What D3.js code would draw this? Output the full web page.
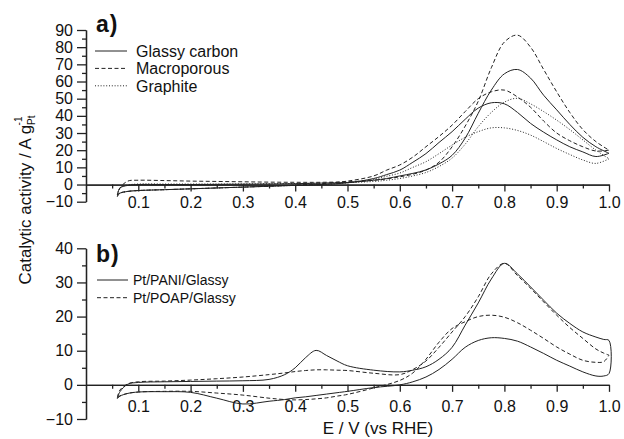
<!DOCTYPE html>
<html>
<head>
<meta charset="utf-8">
<script src="https://d3js.org/d3.v7.min.js"></script>
<style>
body { margin:0; background:#fff; }
#container { width:624px; height:439px; }
text { font-family:'Liberation Sans', Arial, sans-serif; fill:#111; }
.axis path, .axis line { stroke:#222; stroke-width:1.3; }
</style>
</head>
<body>
<div id="container"></div>
<script>

var width = 624;
var height = 439;

// panel a) potential grid, two sweeps per electrode
var gridA = [0.06, 0.065, 0.08, 0.1, 0.15, 0.2, 0.25, 0.3, 0.35, 0.4, 0.45, 0.5, 0.55, 0.575, 0.6, 0.625, 0.65, 0.675, 0.7, 0.725, 0.75, 0.775, 0.8, 0.825, 0.85, 0.875, 0.9, 0.925, 0.95, 0.975, 1.0];

var glassyFwd = [-6, -2, -0.5, 0, 0, 0, 0.1, 0.2, 0.3, 0.5, 0.8, 1.2, 2.5, 3.5, 5, 6.5, 8.5, 12, 17, 27, 41.5, 55, 64.5, 67, 62, 52, 43.5, 35, 27.5, 22, 18.2];
var glassyRev = [-6, -5, -4, -3.5, -3, -2.5, -2, -1.5, -1, -0.5, 0, 1, 3.5, 5.8, 8.4, 13, 18, 24.5, 30.8, 38, 44.5, 47.6, 47, 42, 35.6, 30.5, 26, 22, 19, 16.3, 18.2];

var macroFwd = [-7, -2, 2, 2.5, 2.3, 2, 1.8, 1.6, 1.4, 1.3, 1.3, 1.6, 2.5, 3.3, 4.5, 6, 8.4, 13, 22, 34, 48.5, 68, 83, 87, 80, 67, 54, 42, 32, 25, 20];
var macroRev = [-7, -5, -4, -3.5, -3, -2.5, -2, -1.5, -1, -0.3, 0.5, 2, 5, 8.4, 11.4, 16, 22, 28, 34.6, 42.5, 50, 54, 55, 51, 45, 37, 30, 25.5, 22, 19.5, 20];

var graphiteFwd = [-6, -2, -0.3, 0.3, 0.3, 0.3, 0.3, 0.4, 0.5, 0.6, 0.8, 1.1, 1.8, 2.5, 3.5, 5, 7, 10.5, 15.4, 23.5, 33.7, 42, 48, 50.2, 47, 42.5, 37.5, 32, 26, 20, 15];
var graphiteRev = [-6, -5, -4, -3.5, -3, -2.5, -2, -1.5, -1, -0.5, 0, 1, 3, 4.8, 6.7, 10, 13.3, 18, 23, 27.5, 30.8, 33, 33, 31.5, 28.8, 25, 21, 17.5, 14.3, 12.3, 15];

// panel b)
var gridB = [0.06, 0.065, 0.08, 0.1, 0.15, 0.2, 0.25, 0.3, 0.35, 0.38, 0.4, 0.42, 0.44, 0.46, 0.48, 0.5, 0.55, 0.6, 0.625, 0.65, 0.675, 0.7, 0.725, 0.75, 0.775, 0.8, 0.825, 0.85, 0.875, 0.9, 0.925, 0.95, 0.975, 0.99, 1.0];

var paniFwd = [-4, -2, 0.2, 0.7, 0.9, 1.0, 1.1, 1.2, 1.6, 3, 5, 8, 10.1, 8.6, 7, 5.6, 4.3, 3.8, 4.3, 5.3, 7.5, 11, 17.5, 24, 31, 35.6, 32.5, 28.7, 24.8, 21, 18, 15.5, 14, 13.3, 13];
var paniRev = [-4, -3.3, -2.5, -2.1, -2, -2.2, -3.9, -5.6, -4.8, -4.3, -3.8, -3.5, -3.1, -2.7, -2.3, -1.9, -0.8, 0, 0.9, 2.3, 4.5, 7.5, 11, 13, 13.8, 13.6, 12.8, 11.1, 9.2, 7.2, 5.5, 3.8, 2.6, 2.6, 3.3];

var poapFwd = [-3.7, -1.5, 0.3, 0.9, 1.1, 1.4, 1.8, 2.3, 3.0, 3.5, 3.9, 4.2, 4.4, 4.4, 4.3, 4.2, 3.4, 3.0, 4.5, 7, 11, 15.5, 20, 25.8, 32.5, 35.6, 32, 28.3, 24.3, 20.4, 16.8, 13.6, 10.5, 9.3, 8.7];
var poapRev = [-3.7, -3.2, -2.5, -2.1, -1.9, -1.9, -2.4, -3, -3.9, -4.3, -4.4, -4.3, -4.1, -3.8, -3.3, -2.8, -0.9, 1.3, 3.5, 7.5, 12.5, 16.5, 18.5, 20, 20.4, 19.8, 18.2, 16, 13.6, 11.1, 9, 7.2, 6.6, 6.8, 8.7];

var xTicks = [0.1, 0.2, 0.3, 0.4, 0.5, 0.6, 0.7, 0.8, 0.9, 1.0];
var yTicksA = [-10, 0, 10, 20, 30, 40, 50, 60, 70, 80, 90];
var yTicksB = [-10, 0, 10, 20, 30, 40];

var legendA = ['Glassy carbon', 'Macroporous', 'Graphite'];
var legendB = ['Pt/PANI/Glassy', 'Pt/POAP/Glassy'];

var dashes = ['none', '4,2.5', '1,1.8'];

var svg = d3.select('#container')
	.append('svg')
	.attr('width', width)
	.attr('height', height);

var x = d3.scaleLinear()
	.domain([0, 1])
	.range([86, 609]);

var yA = d3.scaleLinear()
	.domain([-10, 90])
	.range([201.7, 30]);

var yB = d3.scaleLinear()
	.domain([-10, 40])
	.range([419, 248.3]);

// join both sweeps into one closed CV loop
function loop(grid, fwd, rev){
	var out = grid.map(function(e, i){ return [e, fwd[i]]; });
	var back = grid.map(function(e, i){ return [e, rev[i]]; }).reverse();
	return out.concat(back);
}

function drawPanel(y, yTicks, labelY, series){

	// minor + major y ticks
	svg.append('g')
		.attr('class', 'axis')
		.attr('transform', 'translate(86,0)')
		.call(d3.axisLeft(y).tickValues(d3.range(yTicks[0] + 5, yTicks[yTicks.length - 1], 10)).tickSize(4).tickSizeOuter(0).tickFormat(''));

	var ya = svg.append('g')
		.attr('class', 'axis')
		.attr('transform', 'translate(86,0)')
		.call(d3.axisLeft(y).tickValues(yTicks).tickSize(9).tickPadding(4).tickSizeOuter(0));
	ya.selectAll('text').style('font-size', '16px');

	svg.append('g')
		.attr('class', 'axis')
		.attr('transform', 'translate(0,' + y(0) + ')')
		.call(d3.axisBottom(x).tickValues(d3.range(0.05, 1, 0.1)).tickSize(4).tickSizeOuter(0).tickFormat(''));

	var xa = svg.append('g')
		.attr('class', 'axis')
		.attr('transform', 'translate(0,' + y(0) + ')')
		.call(d3.axisBottom(x).tickValues(xTicks).tickSize(7).tickSizeOuter(0).tickFormat(d3.format('.1f')));
	xa.selectAll('text')
		.style('font-size', '16px')
		.attr('dy', null)
		.attr('y', labelY - y(0));

	var line = d3.line()
		.x(function(d){ return x(d[0]); })
		.y(function(d){ return y(d[1]); })
		.curve(d3.curveCatmullRom.alpha(0.5));

	svg.selectAll(null)
		.data(series)
		.enter()
		.append('path')
		.attr('d', function(d){ return line(d.pts); })
		.style('fill', 'none')
		.style('stroke', '#222')
		.style('stroke-width', 1)
		.style('stroke-dasharray', function(d){ return d.dash; });
}

drawPanel(yA, yTicksA, 208.5, [
	{'pts': loop(gridA, glassyFwd, glassyRev), 'dash': dashes[0]},
	{'pts': loop(gridA, macroFwd, macroRev), 'dash': dashes[1]},
	{'pts': loop(gridA, graphiteFwd, graphiteRev), 'dash': dashes[2]}
]);

drawPanel(yB, yTicksB, 412.5, [
	{'pts': loop(gridB, paniFwd, paniRev), 'dash': dashes[0]},
	{'pts': loop(gridB, poapFwd, poapRev), 'dash': dashes[1]}
]);

// legends
legendA.forEach(function(name, i){
	var ly = 51 + i * 17.4;
	svg.append('line')
		.attr('x1', 95).attr('x2', 127)
		.attr('y1', ly).attr('y2', ly)
		.style('stroke', '#222')
		.style('stroke-dasharray', dashes[i]);
	svg.append('text')
		.attr('x', 136)
		.attr('y', ly + 6)
		.style('font-size', '16px')
		.text(name);
});

legendB.forEach(function(name, i){
	var ly = 280 + i * 17.7;
	svg.append('line')
		.attr('x1', 97).attr('x2', 128)
		.attr('y1', ly).attr('y2', ly)
		.style('stroke', '#222')
		.style('stroke-dasharray', dashes[i]);
	svg.append('text')
		.attr('x', 133)
		.attr('y', ly + 5)
		.style('font-size', '14px')
		.text(name);
});

// panel letters
svg.append('text')
	.attr('x', 96).attr('y', 32)
	.style('font-size', '23px')
	.style('font-weight', 'bold')
	.style('letter-spacing', '1px')
	.text('a)');

svg.append('text')
	.attr('x', 96).attr('y', 262)
	.style('font-size', '23px')
	.style('font-weight', 'bold')
	.style('letter-spacing', '1px')
	.text('b)');

// axis titles
svg.append('text')
	.attr('x', 378)
	.attr('y', 434)
	.attr('text-anchor', 'middle')
	.style('font-size', '17px')
	.text('E / V (vs RHE)');

var ylab = svg.append('text')
	.attr('transform', 'translate(31,200) rotate(-90)')
	.attr('text-anchor', 'middle')
	.style('font-size', '17px');
ylab.append('tspan').text('Catalytic activity / A g');
ylab.append('tspan').attr('dy', 4).style('font-size', '10px').text('Pt');
ylab.append('tspan').attr('dx', -10).attr('dy', -13).style('font-size', '10px').text('-1');

</script>
</body>
</html>
